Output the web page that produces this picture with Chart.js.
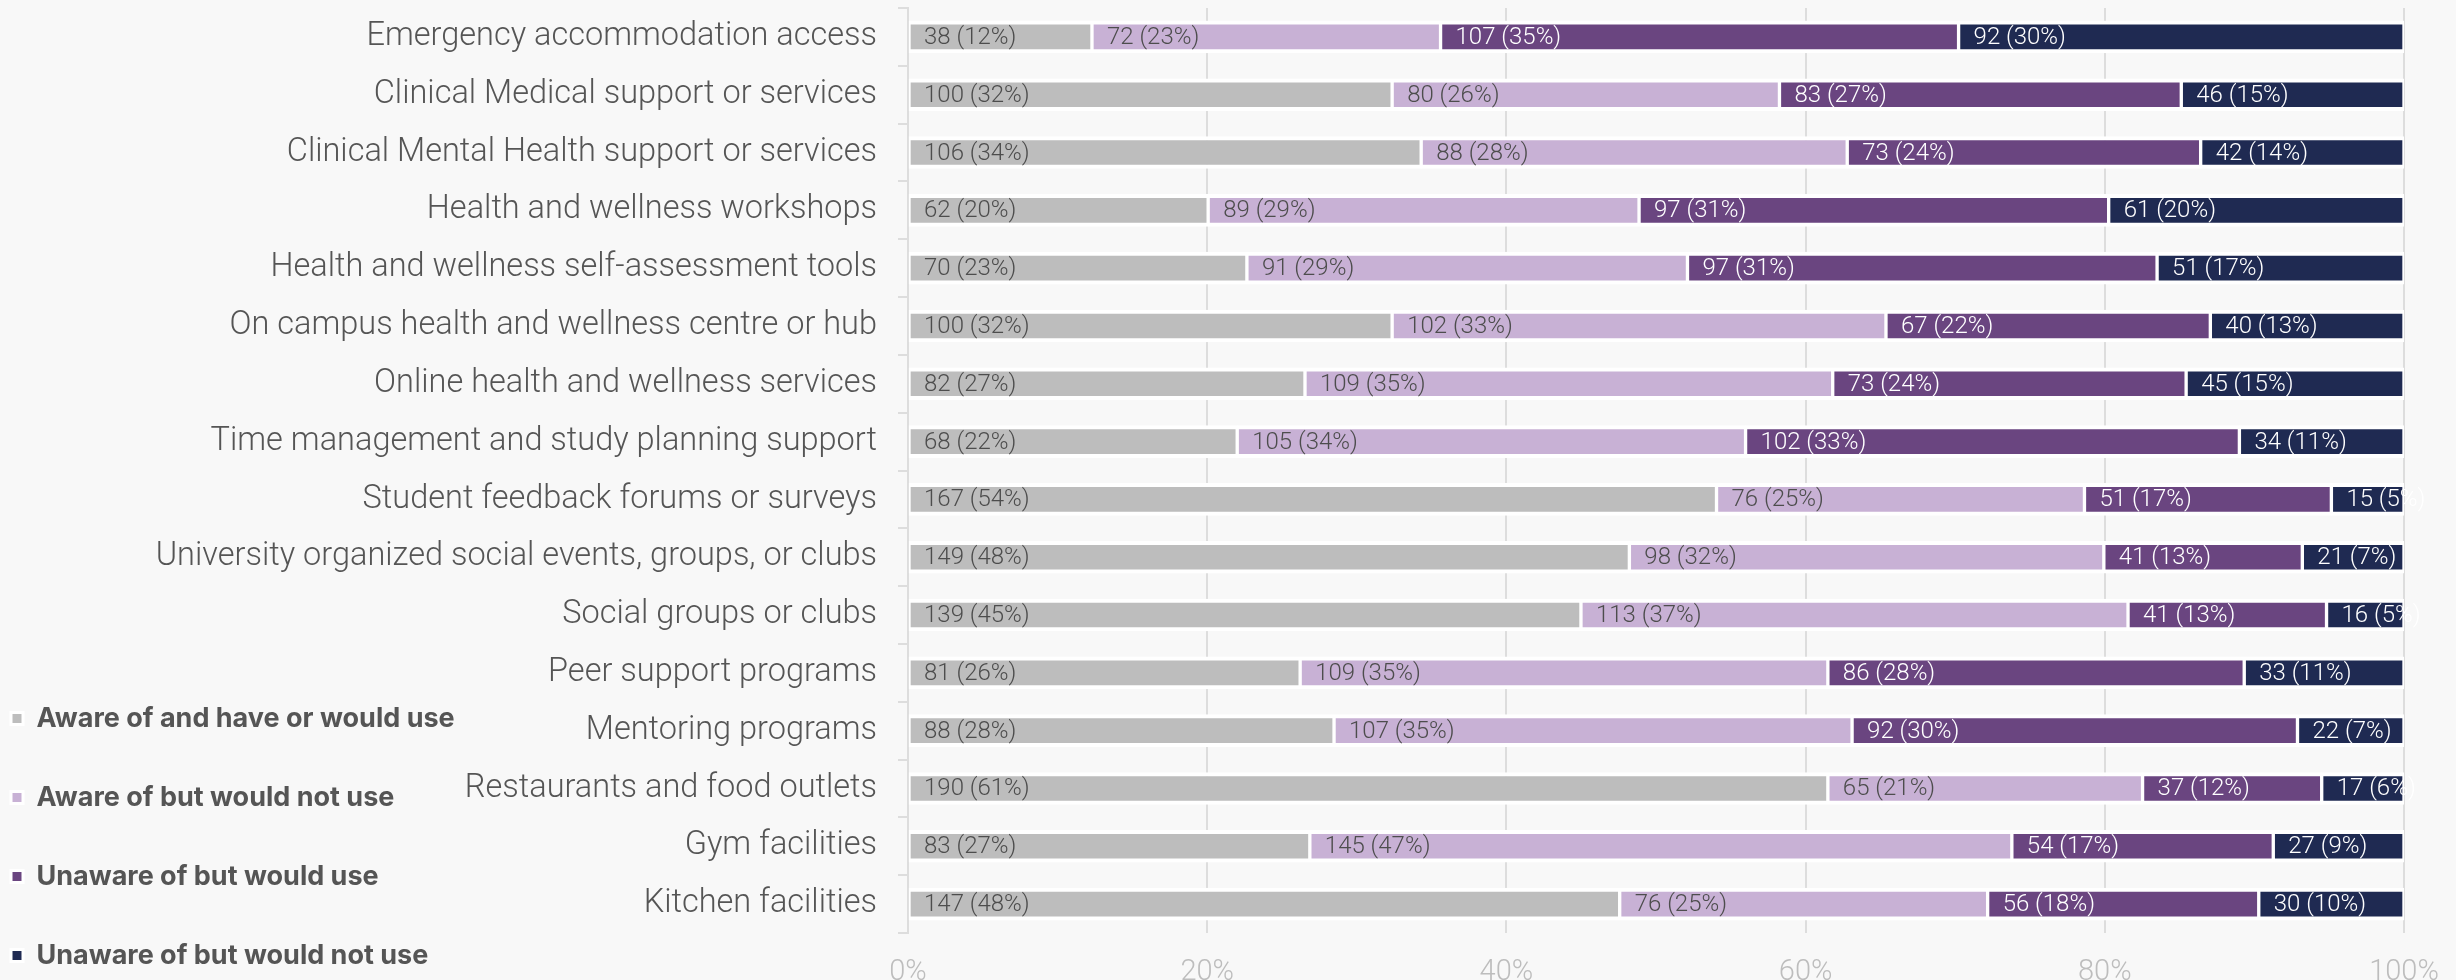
<!DOCTYPE html>
<html>
<head>
<meta charset="utf-8">
<script src="https://cdn.jsdelivr.net/npm/chart.js@4/dist/chart.umd.min.js"></script>
<style>
html,body{margin:0;padding:0;background:#f8f8f8;}
#wrap{width:2456px;height:980px;position:relative;}
</style>
</head>
<body>
<div id="wrap"><canvas id="c"></canvas></div>
<script>
const categories = [
  'Emergency accommodation access',
  'Clinical Medical support or services',
  'Clinical Mental Health support or services',
  'Health and wellness workshops',
  'Health and wellness self-assessment tools',
  'On campus health and wellness centre or hub',
  'Online health and wellness services',
  'Time management and study planning support',
  'Student feedback forums or surveys',
  'University organized social events, groups, or clubs',
  'Social groups or clubs',
  'Peer support programs',
  'Mentoring programs',
  'Restaurants and food outlets',
  'Gym facilities',
  'Kitchen facilities'
];
const seriesNames = [
  'Aware of and have or would use',
  'Aware of but would not use',
  'Unaware of but would use',
  'Unaware of but would not use'
];
const awareWouldUse    = [38, 100, 106, 62, 70, 100, 82, 68, 167, 149, 139, 81, 88, 190, 83, 147];
const awareWouldNotUse = [72, 80, 88, 89, 91, 102, 109, 105, 76, 98, 113, 109, 107, 65, 145, 76];
const unawareWouldUse  = [107, 83, 73, 97, 97, 67, 73, 102, 51, 41, 41, 86, 92, 37, 54, 56];
const unawareWouldNotUse = [92, 46, 42, 61, 51, 40, 45, 34, 15, 21, 16, 33, 22, 17, 27, 30];
const xTickLabels = ['0%', '20%', '40%', '60%', '80%', '100%'];

const seriesCounts = [awareWouldUse, awareWouldNotUse, unawareWouldUse, unawareWouldNotUse];
const seriesColors = ['#bdbdbd', '#c8b1d5', '#6a4580', '#1f2a52'];
const labelColors = ['#4d4d4d', '#4d4d4d', '#ffffff', '#ffffff'];

// 100% stacked: each segment as share of its row total
const rowTotals = categories.map((_, i) => seriesCounts.reduce((s, arr) => s + arr[i], 0));
const toShare = arr => arr.map((v, i) => v / rowTotals[i] * 100);

const datasets = seriesNames.map((name, k) => ({
  label: name,
  data: toShare(seriesCounts[k]),
  counts: seriesCounts[k],
  labelColor: labelColors[k],
  backgroundColor: seriesColors[k],
  borderColor: '#ffffff',
  borderWidth: {top: 4, bottom: 4, left: 2, right: 2},
  borderSkipped: false,
  barThickness: 32
}));

const barLabels = {
  id: 'barLabels',
  afterDatasetsDraw(chart) {
    const ctx = chart.ctx;
    ctx.save();
    ctx.font = '300 24px Roboto';
    ctx.textBaseline = 'middle';
    ctx.textAlign = 'left';
    chart.data.datasets.forEach((ds, di) => {
      const meta = chart.getDatasetMeta(di);
      meta.data.forEach((bar, i) => {
        const left = Math.min(bar.x, bar.base);
        ctx.fillStyle = ds.labelColor;
        ctx.fillText(ds.counts[i] + ' (' + Math.round(ds.data[i]) + '%)', left + 15, bar.y + 1);
      });
    });
    ctx.restore();
  }
};

// legend sits over the label column (no width of its own), like the reference
const legendShift = {
  id: 'legendShift',
  afterLayout(chart) {
    const lg = chart.legend;
    if (lg && !lg._shifted) {
      const orig = lg.draw;
      lg.draw = function (...a) {
        const c = this.ctx;
        const r = this.right, w = this.width;
        this.right = chart.width; this.width = chart.width;
        c.save();
        c.translate(-41, 41);
        orig.apply(this, a);
        c.restore();
        this.right = r; this.width = w;
      };
      lg._shifted = true;
    }
  }
};

Chart.defaults.font.family = 'Roboto';

new Chart(document.getElementById('c'), {
  type: 'bar',
  data: {labels: categories, datasets},
  plugins: [barLabels, legendShift],
  options: {
    indexAxis: 'y',
    responsive: true,
    maintainAspectRatio: false,
    animation: false,
    layout: {padding: {top: 8, right: 52, bottom: 0, left: 0}},
    plugins: {
      legend: {
        position: 'left',
        align: 'end',
        maxWidth: 1,
        labels: {
          boxWidth: 12,
          boxHeight: 12,
          padding: 52,
          color: '#555555',
          font: {family: 'Inter', size: 27, weight: 'bold'}
        }
      },
      tooltip: {enabled: false}
    },
    scales: {
      x: {
        stacked: true,
        min: 0,
        max: 100,
        afterFit(scale) { scale.height = 47; scale.paddingLeft = 0; scale.paddingRight = 0; },
        ticks: {
          stepSize: 20,
          maxRotation: 0,
          callback: (v, i) => xTickLabels[i],
          color: '#bdbdbd',
          font: {size: 29, weight: '300'},
          padding: 22
        },
        grid: {color: '#dddddd', lineWidth: 2, drawTicks: false},
        border: {display: false}
      },
      y: {
        stacked: true,
        afterFit(scale) { scale.width = 907; scale.paddingTop = 0; scale.paddingBottom = 0; },
        ticks: {
          color: '#555555',
          font: {size: 32.5, weight: '300'},
          padding: 21
        },
        grid: {offset: true, drawOnChartArea: false, drawTicks: true, tickLength: 10, color: '#dddddd', lineWidth: 2},
        border: {color: '#dddddd', width: 2}
      }
    }
  }
});
</script>
</body>
</html>
